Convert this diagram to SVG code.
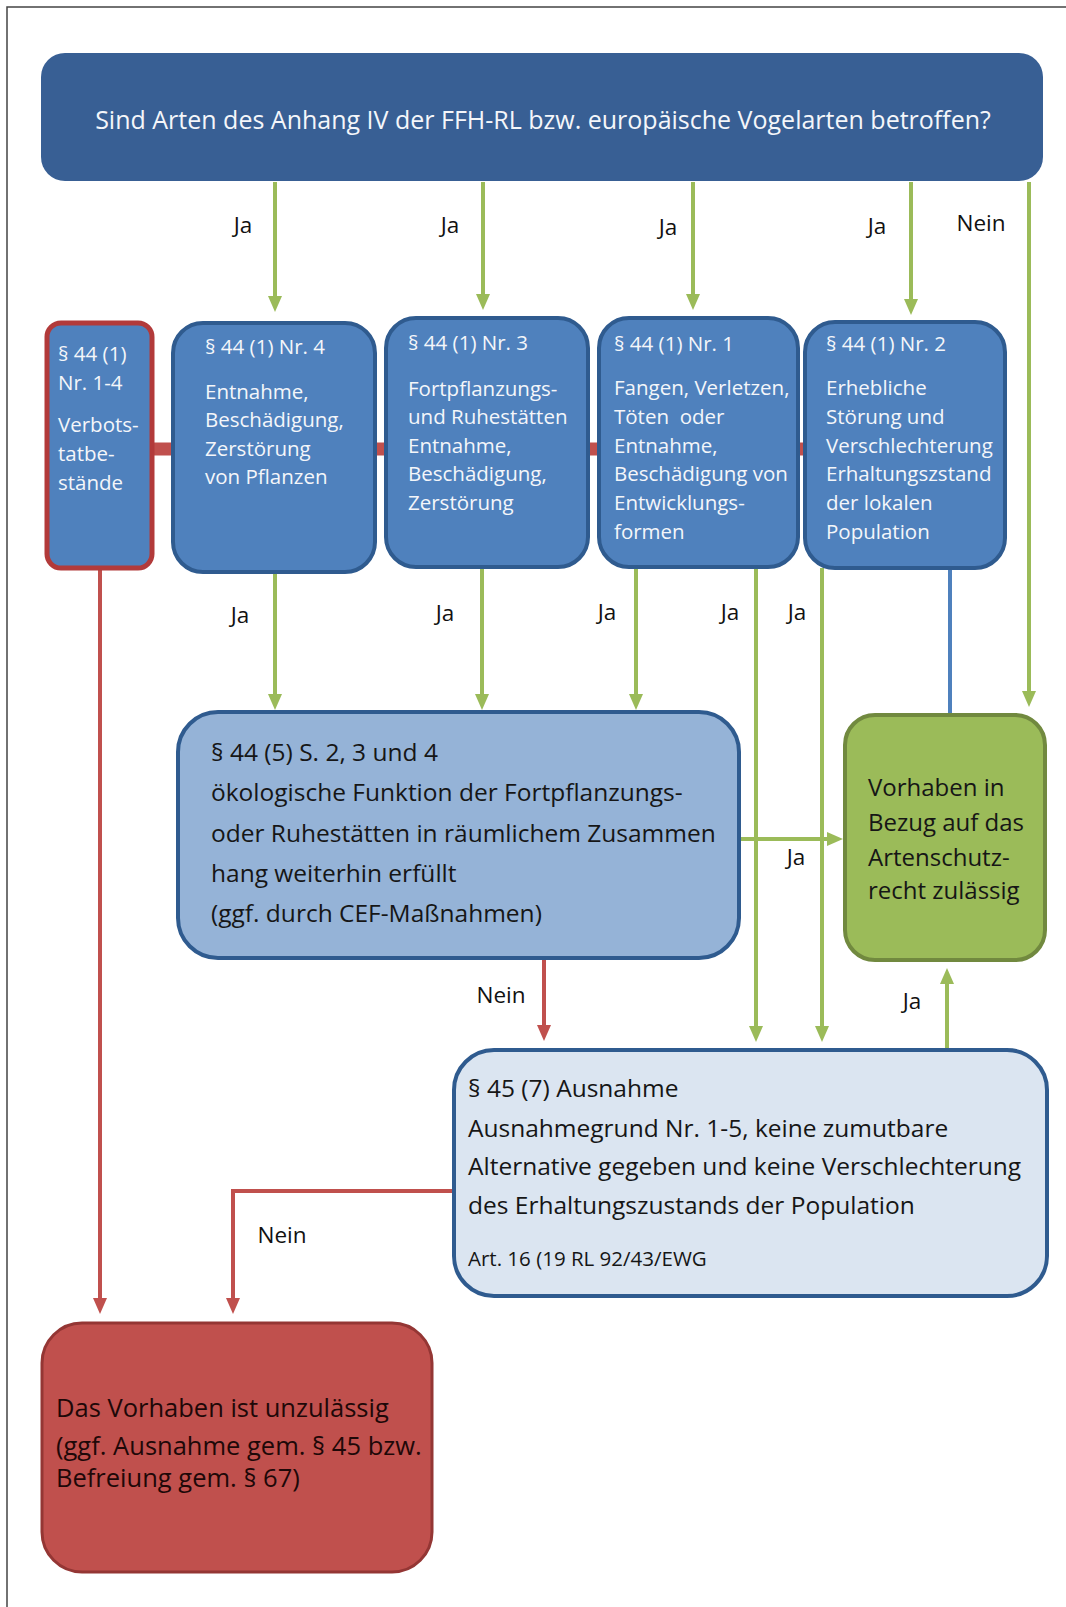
<svg xmlns="http://www.w3.org/2000/svg" width="1066" height="1607" viewBox="0 0 1066 1607">
<style>
text{font-family:"Open Sans","Noto Sans","DejaVu Sans",sans-serif}
.w{fill:#f4f6fa;font-size:20.5px}
.d{fill:#161616}
.lbl{fill:#111;font-size:22.5px}
.g{stroke:#9bbb59;stroke-width:4;fill:none}
.r{stroke:#c0504d;stroke-width:4;fill:none}
.nr{fill:#4f81bd;stroke:#2f5b8f;stroke-width:4}
</style>
<defs>
<marker id="ag" markerUnits="userSpaceOnUse" markerWidth="16" markerHeight="14" refX="8" refY="7" orient="auto"><path d="M0,0 L16,7 L0,14 z" fill="#9bbb59"/></marker>
<marker id="ar" markerUnits="userSpaceOnUse" markerWidth="16" markerHeight="14" refX="8" refY="7" orient="auto"><path d="M0,0 L16,7 L0,14 z" fill="#c0504d"/></marker>
</defs>
<rect x="7" y="7" width="1100" height="1650" fill="#fff" stroke="#444" stroke-width="1.5"/>

<g id="connectors">
<line x1="150" y1="449" x2="806" y2="449" stroke="#c0504d" stroke-width="13"/>
<line class="g" x1="275" y1="182" x2="275" y2="304" marker-end="url(#ag)"/>
<line class="g" x1="483" y1="182" x2="483" y2="302" marker-end="url(#ag)"/>
<line class="g" x1="693" y1="182" x2="693" y2="302" marker-end="url(#ag)"/>
<line class="g" x1="911" y1="182" x2="911" y2="307" marker-end="url(#ag)"/>
<line class="g" x1="1029" y1="182" x2="1029" y2="699" marker-end="url(#ag)"/>
<line class="g" x1="275" y1="572" x2="275" y2="702" marker-end="url(#ag)"/>
<line class="g" x1="482" y1="567" x2="482" y2="702" marker-end="url(#ag)"/>
<line class="g" x1="636" y1="567" x2="636" y2="702" marker-end="url(#ag)"/>
<line class="g" x1="756" y1="567" x2="756" y2="1034" marker-end="url(#ag)"/>
<line class="g" x1="822" y1="568" x2="822" y2="1034" marker-end="url(#ag)"/>
<line x1="950" y1="568" x2="950" y2="715" stroke="#4f81bd" stroke-width="4"/>
<line class="g" x1="739" y1="839" x2="835" y2="839" marker-end="url(#ag)"/>
<line class="g" x1="947" y1="1050" x2="947" y2="976" marker-end="url(#ag)"/>
<line class="r" x1="544" y1="958" x2="544" y2="1033" marker-end="url(#ar)"/>
<polyline class="r" points="454,1191 233,1191 233,1306" marker-end="url(#ar)"/>
<line class="r" x1="100" y1="568" x2="100" y2="1306" marker-end="url(#ar)"/>
<text class="lbl" x="243" y="233" text-anchor="middle">Ja</text>
<text class="lbl" x="450" y="233" text-anchor="middle">Ja</text>
<text class="lbl" x="668" y="235" text-anchor="middle">Ja</text>
<text class="lbl" x="877" y="234" text-anchor="middle">Ja</text>
<text class="lbl" x="981" y="231" text-anchor="middle">Nein</text>
<text class="lbl" x="240" y="623" text-anchor="middle">Ja</text>
<text class="lbl" x="445" y="621" text-anchor="middle">Ja</text>
<text class="lbl" x="607" y="620" text-anchor="middle">Ja</text>
<text class="lbl" x="730" y="620" text-anchor="middle">Ja</text>
<text class="lbl" x="797" y="620" text-anchor="middle">Ja</text>
<text class="lbl" x="796" y="865" text-anchor="middle">Ja</text>
<text class="lbl" x="912" y="1009" text-anchor="middle">Ja</text>
<text class="lbl" x="501" y="1003" text-anchor="middle">Nein</text>
<text class="lbl" x="282" y="1243" text-anchor="middle">Nein</text>
</g>

<g id="header">
<rect x="41" y="53" width="1002" height="128" rx="24" fill="#385f94"/>
<text x="543" y="129" text-anchor="middle" fill="#f4f6fa" font-size="25">Sind Arten des Anhang IV der FFH-RL bzw. europäische Vogelarten betroffen?</text>
</g>

<g id="verbot">
<rect x="47" y="323" width="105" height="245" rx="14" fill="#4f81bd" stroke="#b23a3a" stroke-width="5"/>
<text class="w" x="58" y="361">§ 44 (1)</text>
<text class="w" x="58" y="390">Nr. 1-4</text>
<text class="w" x="58" y="432">Verbots-</text>
<text class="w" x="58" y="461">tatbe-</text>
<text class="w" x="58" y="490">stände</text>
</g>

<g id="nr4">
<rect class="nr" x="173" y="323" width="202" height="249" rx="30"/>
<text class="w" x="205" y="354">§ 44 (1) Nr. 4</text>
<text class="w" x="205" y="399">Entnahme,</text>
<text class="w" x="205" y="427">Beschädigung,</text>
<text class="w" x="205" y="456">Zerstörung</text>
<text class="w" x="205" y="484">von Pflanzen</text>
</g>

<g id="nr3">
<rect class="nr" x="386" y="318" width="202" height="249" rx="30"/>
<text class="w" x="408" y="350">§ 44 (1) Nr. 3</text>
<text class="w" x="408" y="396">Fortpflanzungs-</text>
<text class="w" x="408" y="424">und Ruhestätten</text>
<text class="w" x="408" y="453">Entnahme,</text>
<text class="w" x="408" y="481">Beschädigung,</text>
<text class="w" x="408" y="510">Zerstörung</text>
</g>

<g id="nr1">
<rect class="nr" x="599" y="318" width="199" height="249" rx="30"/>
<text class="w" x="614" y="351">§ 44 (1) Nr. 1</text>
<text class="w" x="614" y="395">Fangen, Verletzen,</text>
<text class="w" x="614" y="424" style="white-space:pre">Töten  oder</text>
<text class="w" x="614" y="453">Entnahme,</text>
<text class="w" x="614" y="481">Beschädigung von</text>
<text class="w" x="614" y="510">Entwicklungs-</text>
<text class="w" x="614" y="539">formen</text>
</g>

<g id="nr2">
<rect class="nr" x="805" y="322" width="200" height="246" rx="30"/>
<text class="w" x="826" y="351">§ 44 (1) Nr. 2</text>
<text class="w" x="826" y="395">Erhebliche</text>
<text class="w" x="826" y="424">Störung und</text>
<text class="w" x="826" y="453">Verschlechterung</text>
<text class="w" x="826" y="481">Erhaltungszstand</text>
<text class="w" x="826" y="510">der lokalen</text>
<text class="w" x="826" y="539">Population</text>
</g>

<g id="p44-5">
<rect x="178" y="712" width="561" height="246" rx="40" fill="#95b3d7" stroke="#2f5b8f" stroke-width="4"/>
<text class="d" x="211" y="761" font-size="24.5">§ 44 (5) S. 2, 3 und 4</text>
<text class="d" x="211" y="801" font-size="24.5">ökologische Funktion der Fortpflanzungs-</text>
<text class="d" x="211" y="842" font-size="24.5">oder Ruhestätten in räumlichem Zusammen</text>
<text class="d" x="211" y="882" font-size="24.5">hang weiterhin erfüllt</text>
<text class="d" x="211" y="922" font-size="24.5">(ggf. durch CEF-Maßnahmen)</text>
</g>

<g id="zulaessig">
<rect x="845" y="715" width="200" height="245" rx="30" fill="#9bbb59" stroke="#71893f" stroke-width="4"/>
<text class="d" x="868" y="796" font-size="24">Vorhaben in</text>
<text class="d" x="868" y="831" font-size="24">Bezug auf das</text>
<text class="d" x="868" y="866" font-size="24">Artenschutz-</text>
<text class="d" x="868" y="899" font-size="24">recht zulässig</text>
</g>

<g id="p45">
<rect x="454" y="1050" width="593" height="246" rx="40" fill="#dbe5f1" stroke="#2f5b8f" stroke-width="4"/>
<text class="d" x="468" y="1097" font-size="24.5">§ 45 (7) Ausnahme</text>
<text class="d" x="468" y="1137" font-size="24.5">Ausnahmegrund Nr. 1-5, keine zumutbare</text>
<text class="d" x="468" y="1175" font-size="24.5">Alternative gegeben und keine Verschlechterung</text>
<text class="d" x="468" y="1214" font-size="24.5">des Erhaltungszustands der Population</text>
<text class="d" x="468" y="1266" font-size="20.5">Art. 16 (19 RL 92/43/EWG</text>
</g>

<g id="unzulaessig">
<rect x="42" y="1323" width="390" height="249" rx="40" fill="#c0504d" stroke="#943634" stroke-width="3"/>
<text x="56" y="1417" font-size="25.5" fill="#1e0808">Das Vorhaben ist unzulässig</text>
<text x="56" y="1455" font-size="25.5" fill="#1e0808">(ggf. Ausnahme gem. § 45 bzw.</text>
<text x="56" y="1487" font-size="25.5" fill="#1e0808">Befreiung gem. § 67)</text>
</g>
</svg>
